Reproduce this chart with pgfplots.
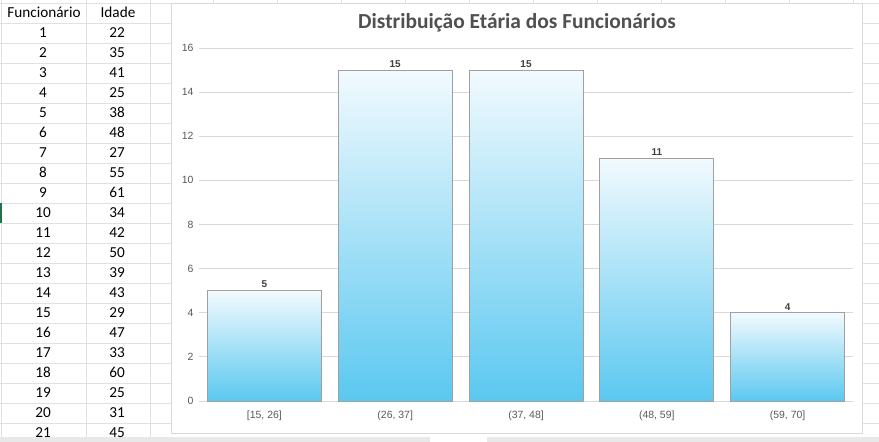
\documentclass[border=0pt]{standalone}
\usepackage{pgfplots}
\pgfplotsset{compat=1.18}
\usepackage{fontspec}
\setmainfont{Carlito}
\newfontfamily\arialf{Liberation Sans}
\definecolor{gridc}{HTML}{D9D9D9}
\definecolor{cellc}{HTML}{E1E1E1}
\definecolor{txtc}{HTML}{595959}
\definecolor{lblc}{HTML}{404040}
\definecolor{bartop}{HTML}{F2FAFE}
\definecolor{barbot}{HTML}{5BC8F0}
\definecolor{baredge}{HTML}{A0A0A0}
\definecolor{xlgreen}{HTML}{217346}
\begin{document}
\begin{tikzpicture}[x=1bp,y=1bp]
\useasboundingbox (0,0) rectangle (879,442);
\clip (0,0) rectangle (879,442);
\fill[white] (0,0) rectangle (879,442);
% spreadsheet grid (left)
\foreach \k in {0,...,21} {
  \draw[cellc, line width=0.8bp] (0,{439-20*\k}) -- (171,{439-20*\k});
  \draw[cellc, line width=0.8bp] (862,{439-20*\k}) -- (879,{439-20*\k});
}
\foreach \xx in {1,86,150} { \draw[cellc, line width=0.8bp] (\xx,0) -- (\xx,442); }
\foreach \xx in {213,277,341,405,469,533,597,661,725,789,853} { \draw[cellc, line width=0.8bp] (\xx,439) -- (\xx,442); }
\draw[cellc, line width=0.8bp] (171,439) -- (862,439);
\fill[xlgreen] (0,219) rectangle (2,239);
% bottom bands
\fill[gridc!60] (0,0) rectangle (430,5);
\fill[gridc!60] (487,0) rectangle (879,5);
% table text
\node[font=\fontsize{15.3}{17}\selectfont, anchor=base] at (44,424) {Funcionário};
\node[font=\fontsize{15.3}{17}\selectfont, anchor=base] at (118,424) {Idade};
\foreach \i/\v [count=\c from 0] in {1/22,2/35,3/41,4/25,5/38,6/48,7/27,8/55,9/61,10/34,11/42,12/50,13/39,14/43,15/29,16/47,17/33,18/60,19/25,20/31,21/45} {
  \node[font=\fontsize{15.3}{17}\selectfont, anchor=base] at (43,{404-20*\c}) {\i};
  \node[font=\fontsize{15.3}{17}\selectfont, anchor=base] at (117,{404-20*\c}) {\v};
}
% chart area
\filldraw[fill=white, draw=gridc, line width=0.8bp] (171,9) rectangle (862,439);
\node[font=\fontsize{21.5}{24}\selectfont\bfseries, text=txtc!90!black] at (517,419.5) {Distribuição Etária dos Funcionários};
\begin{axis}[
  at={(199bp,41bp)}, anchor=south west,
  scale only axis, width=654bp, height=353bp,
  xmin=-0.5, xmax=4.5, ymin=0, ymax=16,
  ytick={0,2,...,16},
  xtick={0,1,2,3,4},
  xticklabels={{[15, 26]},{(26, 37]},{(37, 48]},{(48, 59]},{(59, 70]}},
  axis line style={draw=none},
  major tick style={draw=none},
  ymajorgrids, grid style={gridc, line width=0.8bp},
  yticklabel style={font=\arialf\fontsize{10.5}{12}\selectfont, text=txtc, xshift=-2bp},
  xticklabel style={font=\arialf\fontsize{10.5}{12}\selectfont, text=txtc, yshift=-2bp},
  /pgf/number format/assume math mode=true,
  ybar, bar width=114bp, bar shift=0pt,
  mybar/.style={draw=baredge, line width=0.8bp, top color=bartop, bottom color=barbot},
  nodes near coords,
  every node near coord/.append style={font=\arialf\bfseries\fontsize{10}{11}\selectfont, text=lblc, yshift=-1bp},
  clip=false,
]
\addplot[mybar] coordinates {(0,5)};
\addplot[mybar] coordinates {(1,15)};
\addplot[mybar] coordinates {(2,15)};
\addplot[mybar] coordinates {(3,11)};
\addplot[mybar] coordinates {(4,4)};
\end{axis}
\end{tikzpicture}
\end{document}
